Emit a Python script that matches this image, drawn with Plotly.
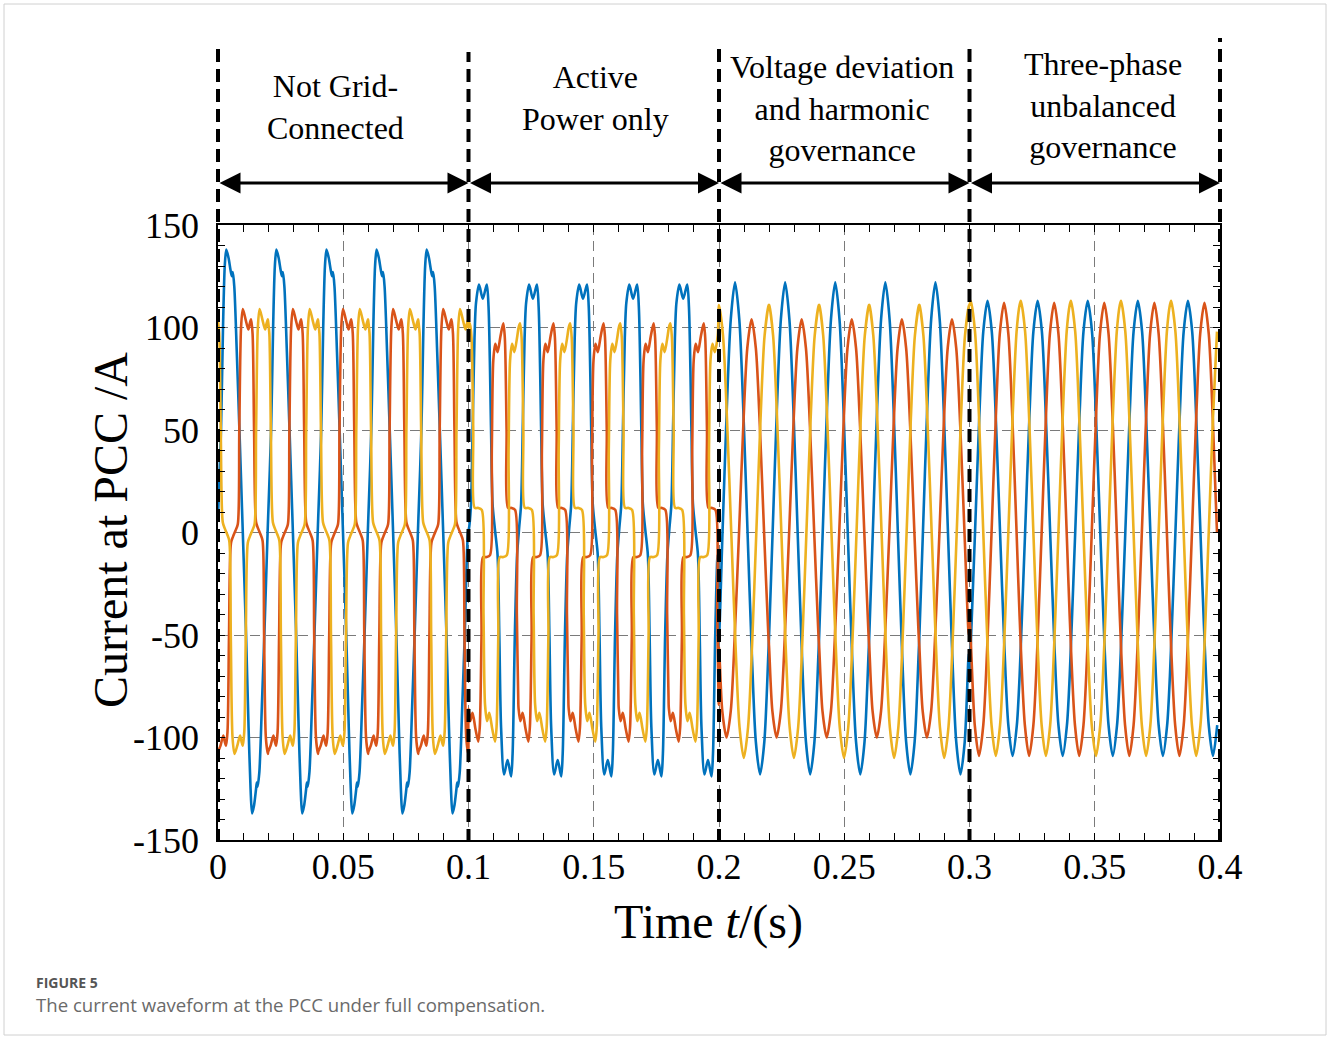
import plotly.graph_objects as go

# ---------------- data ----------------
# Four operating stages, each 0.1 s long, 50 Hz (20 ms cycle), 5 cycles per stage.
SEG_START_S = [0.0, 0.1, 0.2, 0.3]
SEG_LABELS = ["Not Grid-<br>Connected", "Active<br>Power only",
              "Voltage deviation<br>and harmonic<br>governance",
              "Three-phase<br>unbalanced<br>governance"]
CYCLE_MS = 20.0
CYCLES_PER_SEG = 5

# one-cycle waveform key points per stage: time inside cycle (ms) and current (A)
# stage 1 : not grid-connected
s1_blue_ms = [0.0, 1.2, 2.0, 2.7, 3.3, 4.2, 5.0, 5.5, 5.9, 6.5, 7.5, 8.5, 9.9, 11.2, 12.2, 13.0, 13.6, 14.4, 15.2, 15.5, 15.8, 16.5, 17.5, 18.5, 19.8]
s1_blue_A = [7, 50, 100, 130, 138, 134, 128, 125, 127, 120, 88, 52, 0, -50, -95, -125, -137, -133, -125, -122, -124, -117, -85, -50, 0]
s1_red_ms = [0.0, 1.0, 2.1, 2.7, 3.2, 3.8, 4.4, 5.2, 6.0, 7.0, 7.9, 8.5, 9.2, 9.9, 11.0, 12.1, 12.7, 13.2, 13.8, 14.4, 15.2, 16.0, 17.0, 17.8, 18.4, 19.1, 19.9]
s1_red_A = [-107, -104, -99, -102, -104, -97, -50, -5, -2, 1, 4, 50, 100, 109, 104, 99, 102, 104, 97, 50, 5, 2, -1, -4, -50, -100, -108]
s1_yel_ms = [0.0, 0.5, 1.1, 1.9, 2.7, 3.7, 4.5, 5.1, 5.8, 6.6, 7.7, 8.8, 9.4, 9.9, 10.5, 11.1, 11.9, 12.7, 13.7, 14.6, 15.2, 15.9, 16.6, 17.7, 18.8, 19.4, 19.9]
s1_yel_A = [103, 97, 50, 5, 2, -1, -4, -50, -100, -108, -104, -99, -102, -104, -97, -50, -5, -2, 1, 4, 50, 100, 109, 104, 99, 102, 104]

# stage 2 : active power only
s2_blue_ms = [0.2, 1.0, 1.7, 2.4, 3.0, 4.2, 5.7, 7.3, 8.0, 9.0, 9.6, 10.6, 11.6, 12.3, 13.0, 14.2, 15.6, 17.0, 17.6, 18.5, 19.4]
s2_blue_A = [2, 14, 54, 95, 112, 121, 114, 121, 110, 50, 14, 1, -11, -50, -95, -118, -111, -119, -108, -50, -11]
s2_red_ms = [0.0, 0.7, 1.6, 2.8, 3.9, 4.5, 5.2, 5.8, 7.2, 8.6, 9.3, 9.9, 10.7, 11.6, 12.8, 13.9, 14.5, 15.2, 15.8, 17.2, 18.6, 19.3, 19.9]
s2_red_A = [-86, -92, -88, -96, -102, -95, -50, -12, -12, -11, 40, 84, 92, 88, 96, 102, 95, 50, 12, 12, 11, -40, -84]
s2_yel_ms = [0.0, 0.6, 1.2, 1.9, 2.5, 3.9, 5.3, 6.0, 6.6, 7.4, 8.3, 9.5, 10.6, 11.2, 11.9, 12.5, 13.9, 15.3, 16.0, 16.6, 17.4, 18.3, 19.5]
s2_yel_A = [100, 102, 95, 50, 12, 12, 11, -40, -84, -92, -88, -96, -102, -95, -50, -12, -12, -11, 40, 84, 92, 88, 96]

# stage 3 : voltage deviation and harmonic governance
s3_blue_ms = [0.0, 1.4, 3.1, 4.7, 6.4, 8.1, 9.7, 11.4, 13.1, 14.7, 16.4, 18.1, 19.7]
s3_blue_A = [-50, 0, 60, 104, 122, 104, 60, 0, -59, -102, -118, -102, -59]
s3_red_ms = [0.0, 1.3, 3.0, 4.7, 6.3, 8.0, 9.7, 11.3, 13.0, 14.7, 16.3, 18.0, 19.7]
s3_red_A = [-56, -87, -100, -87, -50, 0, 52, 90, 104, 90, 52, 0, -50]
s3_yel_ms = [0.0, 1.6, 3.2, 4.9, 6.6, 8.2, 9.9, 11.6, 13.2, 14.9, 16.6, 18.2, 19.9]
s3_yel_A = [111, 96, 55, 0, -55, -95, -110, -95, -55, 0, 56, 96, 111]

# stage 4 : three-phase unbalanced governance
s4_blue_ms = [0.0, 0.5, 2.2, 3.9, 5.5, 7.2, 8.9, 10.5, 12.2, 13.9, 15.5, 17.2, 18.9]
s4_blue_A = [-70, -55, 0, 56, 98, 113, 98, 56, 0, -55, -94, -109, -94]
s4_red_ms = [0.0, 2.1, 3.8, 5.5, 7.1, 8.8, 10.5, 12.1, 13.8, 15.5, 17.1, 18.8]
s4_red_A = [-41, -94, -109, -94, -55, 0, 56, 97, 112, 97, 56, 0]
s4_yel_ms = [0.0, 0.5, 2.2, 3.8, 5.5, 7.2, 8.8, 10.5, 12.2, 13.8, 15.5, 17.2, 18.8]
s4_yel_A = [111, 113, 98, 56, 0, -55, -94, -109, -94, -55, 0, 56, 98]

X_TICKS = [0, 0.05, 0.1, 0.15, 0.2, 0.25, 0.3, 0.35, 0.4]
X_TICK_TEXT = ["0", "0.05", "0.1", "0.15", "0.2", "0.25", "0.3", "0.35", "0.4"]
Y_TICKS = [-150, -100, -50, 0, 50, 100, 150]
Y_TICK_TEXT = ["-150", "-100", "-50", "0", "50", "100", "150"]

BLUE = "#0072BD"
RED = "#D95319"
YELLOW = "#EDB120"

phases = [
    (BLUE, [(s1_blue_ms, s1_blue_A), (s2_blue_ms, s2_blue_A), (s3_blue_ms, s3_blue_A), (s4_blue_ms, s4_blue_A)]),
    (RED, [(s1_red_ms, s1_red_A), (s2_red_ms, s2_red_A), (s3_red_ms, s3_red_A), (s4_red_ms, s4_red_A)]),
    (YELLOW, [(s1_yel_ms, s1_yel_A), (s2_yel_ms, s2_yel_A), (s3_yel_ms, s3_yel_A), (s4_yel_ms, s4_yel_A)]),
]

fig = go.Figure()
for color, segs in phases:
    xs, ys = [], []
    for start, (ms, amps) in zip(SEG_START_S, segs):
        for k in range(CYCLES_PER_SEG):
            for m, a in zip(ms, amps):
                xs.append(start + (k * CYCLE_MS + m) / 1000.0)
                ys.append(a)
    fig.add_trace(go.Scatter(x=xs, y=ys, mode="lines",
                             line=dict(color=color, width=2.6, shape="spline", smoothing=0.8),
                             showlegend=False, hoverinfo="skip"))

SERIF = "Liberation Serif, Times New Roman, serif"
L, R, T, B = 218, 108, 225, 198
W, H = 1328, 1038
PW, PH = W - L - R, H - T - B
X_MAX = 0.4


def px_to_py(py):
    return (H - B - py) / PH


def px_to_px(px):
    return (px - L) / PW


axis_common = dict(
    ticks="inside", ticklen=7, tickwidth=1, tickcolor="black",
    showline=True, linecolor="black", linewidth=1.5, mirror="ticks",
    showgrid=True, gridcolor="#7a7a7a", gridwidth=1, griddash="10px,6px",
    zeroline=False, tickfont=dict(family=SERIF, size=36, color="black"),
)

fig.update_layout(
    width=W, height=H,
    margin=dict(l=L, r=R, t=T, b=B),
    paper_bgcolor="white", plot_bgcolor="white",
    xaxis=dict(range=[0, X_MAX], tickmode="array", tickvals=X_TICKS, ticktext=X_TICK_TEXT,
               ticklabelstandoff=-6,
               minor=dict(tickmode="linear", tick0=0, dtick=0.01, ticks="inside",
                          ticklen=7, tickcolor="black", showgrid=False),
               **axis_common),
    yaxis=dict(range=[-150, 150], tickmode="array", tickvals=Y_TICKS, ticktext=Y_TICK_TEXT,
               ticklabelstandoff=10,
               minor=dict(tickmode="linear", tick0=0, dtick=10, ticks="inside",
                          ticklen=7, tickcolor="black", showgrid=False),
               **axis_common),
)

# stage boundaries: thick black dashed lines (paper coords so they are not clipped)
bound_x = [0.0, 0.1, 0.2, 0.3, 0.4]
bound_top_px = [45, 52, 45, 45, 38]
for bx, top in zip(bound_x, bound_top_px):
    fig.add_shape(type="line", xref="paper", yref="paper", x0=bx / X_MAX, x1=bx / X_MAX,
                  y0=px_to_py(842), y1=px_to_py(top),
                  line=dict(color="black", width=4, dash="13px,7px"), layer="above")

# double-headed arrows and stage labels
arrow_y = px_to_py(183)
label_x = [0.0471, 0.1505, 0.2491, 0.3533]
label_y_px = [107, 98.5, 108, 105]
for i, start in enumerate(SEG_START_S):
    end = start + 0.1
    fig.add_annotation(x=end, y=arrow_y, xref="x", yref="paper",
                       ax=start, ay=0, axref="x", ayref="pixel",
                       text="", showarrow=True, arrowside="end+start",
                       arrowhead=2, arrowsize=1.4, arrowwidth=3, arrowcolor="black",
                       standoff=0, startstandoff=0)
    fig.add_annotation(x=label_x[i], y=px_to_py(label_y_px[i]), xref="x", yref="paper",
                       text=SEG_LABELS[i], showarrow=False, xanchor="center", yanchor="middle",
                       font=dict(family=SERIF, size=32, color="black"))

# axis titles
fig.add_annotation(x=px_to_px(110), y=px_to_py(530), xref="paper", yref="paper",
                   text="Current at PCC /A", textangle=-90, showarrow=False,
                   xanchor="center", yanchor="middle",
                   font=dict(family=SERIF, size=48, color="black"))
fig.add_annotation(x=px_to_px(708), y=px_to_py(922), xref="paper", yref="paper",
                   text="Time <i>t</i>/(s)", showarrow=False,
                   xanchor="center", yanchor="middle",
                   font=dict(family=SERIF, size=48, color="black"))

# caption
fig.add_annotation(x=px_to_px(35), y=px_to_py(982), xref="paper", yref="paper",
                   text="<b>FIGURE 5</b>", showarrow=False, xanchor="left", yanchor="middle",
                   font=dict(family="Open Sans, Noto Sans, sans-serif", size=14, color="#555555"),
                   borderpad=0)
fig.add_annotation(x=px_to_px(35), y=px_to_py(1004), xref="paper", yref="paper",
                   text="The current waveform at the PCC under full compensation.",
                   showarrow=False, xanchor="left", yanchor="middle",
                   font=dict(family="Open Sans, Noto Sans, sans-serif", size=18.6, color="#6a6a6a"),
                   borderpad=0)

# thin outer frame
fig.add_shape(type="rect", xref="paper", yref="paper",
              x0=px_to_px(4), x1=px_to_px(1326), y0=px_to_py(1035), y1=px_to_py(4),
              line=dict(color="#d0d0d0", width=1), layer="below")

fig.write_html("out.html")
